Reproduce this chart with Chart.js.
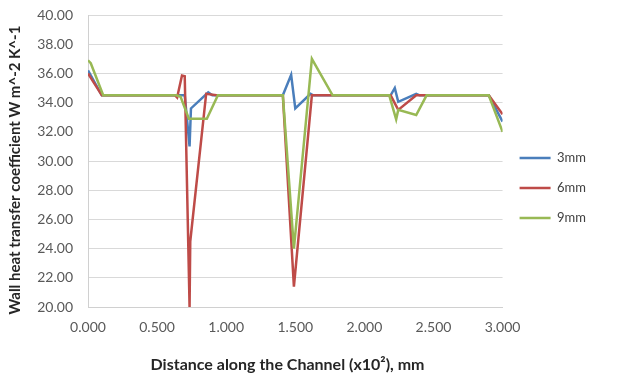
<!DOCTYPE html>
<html>
<head>
<meta charset="utf-8">
<script src="https://cdn.jsdelivr.net/npm/chart.js@4/dist/chart.umd.min.js"></script>
<style>
  html, body { margin: 0; padding: 0; background: #fff; }
  #wrap { width: 631px; height: 376px; }
</style>
</head>
<body>
<div id="wrap"><canvas id="chart-htc"></canvas></div>
<script>
// ─── DATA ─────────────────────────────────────────────
const SERIES_NAMES = ['3mm', '6mm', '9mm'];

const x3mm = [0, 0.10, 0.70, 0.735, 0.745, 0.87, 0.90, 1.41, 1.47, 1.50, 1.61, 1.63, 2.19, 2.22, 2.245, 2.375, 2.40, 2.90, 3.00];
const y3mm = [36.2, 34.5, 34.5, 31.0, 33.6, 34.7, 34.5, 34.5, 35.9, 33.6, 34.6, 34.5, 34.5, 35.0, 34.05, 34.6, 34.5, 34.5, 32.7];

const x6mm = [0, 0.10, 0.63, 0.645, 0.68, 0.70, 0.735, 0.74, 0.855, 0.93, 1.41, 1.49, 1.62, 2.19, 2.245, 2.375, 2.90, 3.00];
const y6mm = [36.0, 34.5, 34.5, 34.35, 35.85, 35.8, 20.0, 24.5, 34.6, 34.5, 34.5, 21.4, 34.5, 34.5, 33.5, 34.5, 34.5, 33.2];

const x9mm = [0, 0.02, 0.11, 0.64, 0.67, 0.73, 0.86, 0.94, 1.41, 1.49, 1.62, 1.77, 2.18, 2.23, 2.245, 2.375, 2.45, 2.90, 3.00];
const y9mm = [36.9, 36.7, 34.5, 34.5, 34.4, 32.9, 32.9, 34.5, 34.5, 24.0, 37.0, 34.5, 34.5, 32.85, 33.5, 33.15, 34.5, 34.5, 32.0];

const X_TICKS = [0, 0.5, 1.0, 1.5, 2.0, 2.5, 3.0];
const Y_TICKS = [20, 22, 24, 26, 28, 30, 32, 34, 36, 38, 40];

const COLORS = ['#4a7ebb', '#be4b48', '#98b954'];

const pts = (xs, ys) => xs.map((x, i) => ({ x, y: ys[i] }));

// ─── CHART ────────────────────────────────────────────
Chart.defaults.font.family = "Lato, 'Open Sans', sans-serif";
Chart.defaults.color = '#595959';
Chart.defaults.animation = false;

const seriesData = [pts(x3mm, y3mm), pts(x6mm, y6mm), pts(x9mm, y9mm)];

new Chart(document.getElementById('chart-htc'), {
  type: 'line',
  data: {
    datasets: SERIES_NAMES.map((name, i) => ({
      label: name,
      data: seriesData[i],
      borderColor: COLORS[i],
      backgroundColor: COLORS[i],
      borderWidth: 2.5,
      pointRadius: 0,
      tension: 0,
      fill: false,
      order: 3 - i,
    }))
  },
  options: {
    responsive: true,
    maintainAspectRatio: false,
    layout: { padding: { top: 0, right: 35, left: 0, bottom: 0 } },
    plugins: {
      tooltip: { enabled: false },
      legend: {
        position: 'right',
        align: 'center',
        labels: {
          usePointStyle: true,
          pointStyle: 'line',
          pointStyleWidth: 31,
          padding: 17,
          color: '#404040',
          font: { size: 13 },
          sort: (a, b) => a.datasetIndex - b.datasetIndex,
        }
      }
    },
    scales: {
      x: {
        type: 'linear',
        min: 0,
        max: 3,
        afterBuildTicks: s => { s.ticks = X_TICKS.map(v => ({ value: v })); },
        afterFit: s => { s.height = 69; },
        grid: { display: false, drawTicks: false },
        border: { display: true, color: '#d0d0d0' },
        ticks: { padding: 12, font: { size: 14 }, callback: v => v.toFixed(3) },
        title: {
          display: true,
          // trailing spaces nudge the centred title a bit left, like the original
          text: 'Distance along the Channel (x10²), mm    ',
          color: '#262626',
          font: { size: 16, weight: 'bold' },
          padding: { top: 0, bottom: 2 },
        }
      },
      y: {
        min: 20,
        max: 40,
        afterBuildTicks: s => { s.ticks = Y_TICKS.map(v => ({ value: v })); },
        afterFit: s => { s.width = 88; s.paddingTop = 15; s.paddingBottom = 0; },
        grid: { color: '#d9d9d9', drawTicks: false },
        border: { display: true, color: '#d0d0d0' },
        ticks: { padding: 15, font: { size: 14 }, callback: v => v.toFixed(2) },
        title: {
          display: true,
          text: 'Wall heat transfer coefficient W m^-2 K^-1     ',
          color: '#262626',
          font: { size: 15, weight: 'bold' },
          padding: { top: 6, bottom: 0 },
        }
      }
    }
  }
});
</script>
</body>
</html>
